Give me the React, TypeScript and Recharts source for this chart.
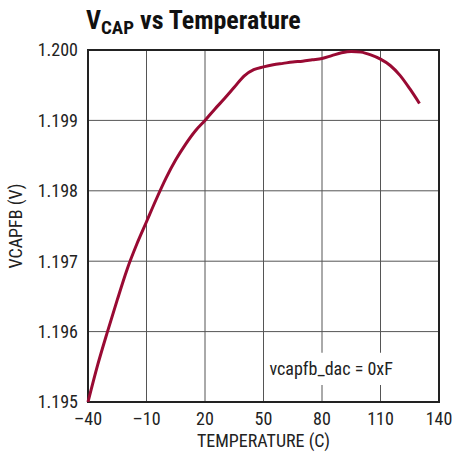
import React from 'react';
import {
  LineChart, Line, XAxis, YAxis, CartesianGrid, ReferenceArea,
} from 'recharts';

// temperature (C) and measured VCAPFB (V)
const temps = [
  -40, -35, -30, -25, -20, -15, -10, -5, 0, 5, 10, 15, 20, 25, 30, 35, 40, 45,
  50, 55, 60, 65, 70, 75, 80, 85, 90, 95, 100, 105, 110, 115, 120, 125, 130,
];
const vcap = [
  1.1950, 1.19553, 1.1960, 1.19645, 1.19688, 1.19724, 1.19756, 1.19788, 1.19818,
  1.19844, 1.19866, 1.19885, 1.1990, 1.19916, 1.19931, 1.19947, 1.19963, 1.19972,
  1.19976, 1.19979, 1.19981, 1.19983, 1.19984, 1.19986, 1.19988, 1.19992, 1.19996,
  1.19998, 1.19997, 1.19993, 1.19987, 1.19978, 1.19964, 1.19945, 1.19924,
];
const xTicks = [-40, -10, 20, 50, 80, 110, 140];
const yTicks = [1.195, 1.196, 1.197, 1.198, 1.199, 1.2];

const data = temps.map((t, i) => ({ t, v: vcap[i] }));

const FONT = '"Liberation Sans Narrow", "Roboto Condensed", "Arial Narrow", sans-serif';
const tickStyle = { fill: '#222', fontSize: 18, fontFamily: FONT };

const App: React.FC = () => {
  return (
    <div style={{ position: 'relative', width: 453, height: 456, background: '#fff' }}>
      <style>{`body{margin:0}`}</style>
      <div
        style={{
          position: 'absolute', left: 86, top: 5, fontFamily: FONT, fontWeight: 700,
          fontSize: 26, color: '#111', whiteSpace: 'nowrap',
        }}
      >
        V<sub style={{ fontSize: 19, verticalAlign: -5 }}>CAP</sub> vs Temperature
      </div>
      <LineChart
        width={453}
        height={456}
        data={data}
        margin={{ top: 50, right: 14, bottom: 24, left: 0 }}
      >
        <CartesianGrid stroke="#555" strokeWidth={1} />
        <XAxis
          dataKey="t"
          type="number"
          domain={[-40, 140]}
          ticks={xTicks}
          height={30}
          tickLine={false}
          axisLine={false}
          tickSize={6}
          tickMargin={4}
          tick={tickStyle}
          tickFormatter={(v: number) => String(v).replace('-', '\u2013')}
          label={{ value: 'TEMPERATURE (C)', position: 'bottom', offset: 2, style: tickStyle }}
        />
        <YAxis
          type="number"
          domain={[1.195, 1.2]}
          ticks={yTicks}
          width={88}
          tickLine={false}
          axisLine={false}
          tickSize={6}
          tickMargin={4}
          tick={tickStyle}
          tickFormatter={(v: number) => v.toFixed(3)}
          label={{ value: 'VCAPFB (V)', angle: -90, position: 'insideLeft', offset: 16, style: { ...tickStyle, textAnchor: 'middle' } }}
        />
        <ReferenceArea
          x1={51}
          x2={125}
          y1={1.19524}
          y2={1.1957}
          fill="#fff"
          fillOpacity={1}
          stroke="none"
          label={{ value: 'vcapfb_dac = 0xF', position: 'insideLeft', offset: 4, style: tickStyle }}
        />
        <ReferenceArea
          x1={-40}
          x2={140}
          y1={1.195}
          y2={1.2}
          fill="none"
          stroke="#222"
          strokeWidth={2}
        />
        <Line
          dataKey="v"
          type="monotone"
          stroke="#990a33"
          strokeWidth={3}
          dot={false}
          isAnimationActive={false}
        />
      </LineChart>
    </div>
  );
};

export default App;
